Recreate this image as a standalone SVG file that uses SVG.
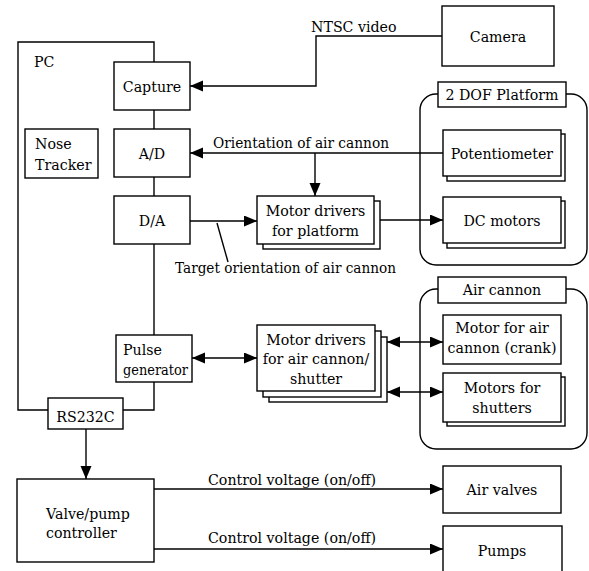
<svg xmlns="http://www.w3.org/2000/svg" width="589" height="571" viewBox="0 0 589 571">
<style>
.b{fill:#fff;stroke:#000;stroke-width:1.4}
.c{fill:none;stroke:#000;stroke-width:1.4}
.m{text-anchor:middle}
text{font-family:"DejaVu Serif","Liberation Serif",serif;font-size:14.2px;fill:#000}
</style>
<defs>
<marker id="ah" markerUnits="userSpaceOnUse" markerWidth="14" markerHeight="12" refX="13" refY="5.5" orient="auto-start-reverse">
<path d="M0,0 L13,5.5 L0,11 Z" fill="#000"/>
</marker>
</defs>
<rect width="589" height="571" fill="#fff"/>

<g id="containers">
<rect class="b" x="420" y="94" width="167" height="171" rx="16"/>
<rect class="b" x="420" y="289" width="167" height="160" rx="16"/>
</g>

<g id="connectors">
<polyline class="c" points="154,62 154,42 18,42 18,410 48,410"/>
<polyline class="c" points="123,410 154,410 154,382"/>
<line class="c" x1="154" y1="110" x2="154" y2="129"/>
<line class="c" x1="154" y1="177" x2="154" y2="196"/>
<line class="c" x1="154" y1="244" x2="154" y2="335"/>
<polyline class="c" points="442,36 316,36 316,86 190,86" marker-end="url(#ah)"/>
<line class="c" x1="443" y1="153" x2="190" y2="153" marker-end="url(#ah)"/>
<line class="c" x1="315" y1="153" x2="315" y2="196" marker-end="url(#ah)"/>
<line class="c" x1="190" y1="221" x2="257" y2="221" marker-end="url(#ah)"/>
<line class="c" x1="380" y1="220" x2="443" y2="220" marker-end="url(#ah)"/>
<line class="c" x1="217" y1="223" x2="228" y2="262"/>
<line class="c" x1="192" y1="358" x2="257" y2="358" marker-start="url(#ah)" marker-end="url(#ah)"/>
<line class="c" x1="387" y1="342" x2="443" y2="342" marker-start="url(#ah)" marker-end="url(#ah)"/>
<line class="c" x1="387" y1="392" x2="443" y2="392" marker-start="url(#ah)" marker-end="url(#ah)"/>
<line class="c" x1="86" y1="429" x2="86" y2="479" marker-end="url(#ah)"/>
<line class="c" x1="154" y1="489" x2="443" y2="489" marker-end="url(#ah)"/>
<line class="c" x1="154" y1="549" x2="443" y2="549" marker-end="url(#ah)"/>
</g>

<g id="labels">
<text x="34" y="67">PC</text>
<text x="311" y="32">NTSC video</text>
<text x="213" y="148" textLength="176" lengthAdjust="spacingAndGlyphs">Orientation of air cannon</text>
<text x="175" y="273" textLength="221" lengthAdjust="spacingAndGlyphs">Target orientation of air cannon</text>
<text x="208" y="485" textLength="168" lengthAdjust="spacingAndGlyphs">Control voltage (on/off)</text>
<text x="208" y="543" textLength="168" lengthAdjust="spacingAndGlyphs">Control voltage (on/off)</text>
</g>

<g id="camera"><rect class="b" x="442" y="6" width="112" height="60"/><text class="m" x="498" y="42">Camera</text></g>
<g id="capture"><rect class="b" x="114" y="62" width="76" height="48"/><text class="m" x="152" y="92">Capture</text></g>
<g id="nose-tracker"><rect class="b" x="25" y="129" width="73" height="49"/><text x="35" y="149">Nose</text><text x="35" y="170">Tracker</text></g>
<g id="ad"><rect class="b" x="114" y="129" width="76" height="48"/><text class="m" x="152" y="159">A/D</text></g>
<g id="da"><rect class="b" x="114" y="196" width="76" height="48"/><text class="m" x="152" y="226">D/A</text></g>
<g id="pulse-generator"><rect class="b" x="116" y="335" width="76" height="47"/><text x="123" y="355">Pulse</text><text x="123" y="375" textLength="65" lengthAdjust="spacingAndGlyphs">generator</text></g>
<g id="rs232c"><rect class="b" x="48" y="398" width="75" height="31"/><text class="m" x="85.5" y="422">RS232C</text></g>
<g id="valve-pump"><rect class="b" x="17" y="479" width="137" height="83"/><text x="46" y="519">Valve/pump</text><text x="46" y="538">controller</text></g>

<g id="motor-drivers-platform">
<rect class="b" x="263" y="201" width="117" height="48"/>
<rect class="b" x="257" y="196" width="117" height="48"/>
<text class="m" x="315.5" y="216">Motor drivers</text><text class="m" x="315.5" y="236">for platform</text>
</g>
<g id="motor-drivers-cannon">
<rect class="b" x="269" y="337" width="118" height="65"/>
<rect class="b" x="263" y="331" width="118" height="66"/>
<rect class="b" x="257" y="325" width="118" height="66"/>
<text class="m" x="316" y="345">Motor drivers</text><text class="m" x="316" y="364">for air cannon/</text><text class="m" x="316" y="384">shutter</text>
</g>

<g id="platform-label"><rect class="b" x="438" y="82" width="128" height="25"/><text class="m" x="502" y="100">2 DOF Platform</text></g>
<g id="potentiometer">
<rect class="b" x="447" y="134" width="118" height="47"/>
<rect class="b" x="443" y="130" width="118" height="46"/>
<text class="m" x="502" y="159">Potentiometer</text>
</g>
<g id="dc-motors">
<rect class="b" x="447" y="201" width="118" height="47"/>
<rect class="b" x="443" y="197" width="118" height="46"/>
<text class="m" x="502" y="226">DC motors</text>
</g>

<g id="cannon-label"><rect class="b" x="438" y="277" width="128" height="26"/><text class="m" x="502" y="295">Air cannon</text></g>
<g id="motor-crank"><rect class="b" x="443" y="315" width="118" height="49"/><text class="m" x="502" y="333">Motor for air</text><text class="m" x="502" y="353">cannon (crank)</text></g>
<g id="motors-shutters">
<rect class="b" x="447" y="377" width="118" height="49"/>
<rect class="b" x="443" y="373" width="118" height="49"/>
<text class="m" x="502" y="393">Motors for</text><text class="m" x="502" y="413">shutters</text>
</g>

<g id="air-valves"><rect class="b" x="443" y="466" width="118" height="47"/><text class="m" x="502" y="495">Air valves</text></g>
<g id="pumps"><rect class="b" x="443" y="526" width="119" height="50"/><text class="m" x="502" y="556">Pumps</text></g>
</svg>
